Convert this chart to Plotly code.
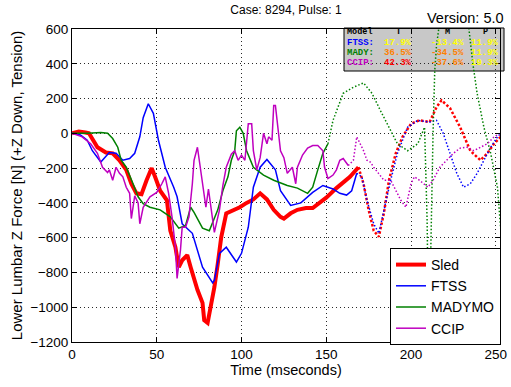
import plotly.graph_objects as go

# ---------------- data ----------------
sled_t = [0, 4, 8, 10, 15, 20, 24, 28, 32, 35,
          38, 41, 44, 47, 49, 52, 56, 58, 61, 63,
          65, 68, 70, 74, 77, 78, 80, 82, 84, 86,
          88, 91, 95, 99, 103, 107, 111, 115, 119, 123,
          125, 129, 133, 138, 142, 146, 150, 156, 160, 164,
          169, 172, 175, 178, 181, 184, 187, 191, 195, 200,
          205, 211, 215, 218, 223, 229, 235, 241, 245, 249,
          253]
sled_y = [0, 10, 5, 0, -80, -110, -115, -155, -210, -290,
          -345, -350, -270, -200, -250, -330, -385, -560, -655, -770,
          -730, -700, -770, -900, -975, -1075, -1090, -1000, -885, -750,
          -600, -460, -445, -425, -400, -380, -345, -380, -440, -480,
          -490, -460, -440, -430, -430, -400, -370, -315, -280, -250,
          -195, -290, -440, -560, -595, -460, -270, -115, -20, 55,
          75, 65, 150, 190, 145, 35, -100, -155, -115, -60,
          -20]
sled_end = 169

ftss_t = [0, 5, 9, 12, 17, 19, 22, 26, 30, 34,
          37, 40, 42, 45, 48, 51, 55, 60, 62, 65,
          71, 77, 83, 84, 87, 91, 97, 100, 104, 107,
          111, 115, 120, 123, 129, 135, 142, 148, 154, 158,
          162, 165, 168, 171, 174, 178, 181, 184, 188, 192,
          198, 204, 211, 215, 219, 223, 227, 231, 235, 239,
          243, 247, 251, 253]
ftss_y = [0, -10, -40, -100, -165, -145, -110, -115, -155, -145,
          -115, -20, 90, 170, 115, -40, -195, -310, -365, -520,
          -575, -770, -860, -845, -690, -655, -740, -690, -540, -310,
          -195, -150, -210, -330, -415, -400, -340, -300, -320, -345,
          -355, -330, -230, -250, -385, -520, -575, -440, -270, -115,
          35, 75, 65, 75, 0, -115, -230, -310, -290, -230,
          -155, -80, -20, 0]
ftss_end = 168

mady_t = [0, 9, 17, 21, 24, 27, 29, 32, 36, 39,
          42, 46, 52, 58, 63, 67, 70, 72, 77, 81,
          86, 89, 92, 94, 96, 97, 99, 101, 103, 107,
          113, 119, 127, 133, 139, 142, 145, 148, 151, 154,
          160, 166, 172, 177, 182, 187, 192, 198, 204, 208,
          209.5, 210.5, 211.5, 213, 214, 215, 217, 220, 233, 235,
          236.5, 239, 243, 247, 251, 253]
mady_y = [0, 0, 5, 0, -30, -80, -155, -195, -290, -365,
          -405, -425, -440, -480, -545, -530, -425, -455, -545, -560,
          -440, -330, -250, -155, -100, 15, 35, 0, -100, -195,
          -240, -270, -300, -315, -345, -310, -210, -115, -60, 75,
          230, 265, 290, 230, 130, 35, -60, -100, -60, 35,
          -500, -1260, -700, 0, 360, 500, 650, 700, 700, 520,
          400, 230, 35, -115, -310, -560]
mady_end = 151

ccip_t = [0, 6, 11, 15, 18, 21, 22, 24, 26, 28,
          30, 32, 34, 35, 37, 39, 40, 42, 46, 50,
          53, 55, 57, 59, 61, 62, 64, 65, 67, 69,
          71, 72, 74, 76, 77, 79, 80.5, 82, 84, 87,
          89, 91, 94, 96, 98, 100, 102, 104, 106, 107,
          109, 111, 113, 115, 116, 118, 119, 120, 122, 123,
          125, 127, 130, 132, 133, 136, 139, 142, 145, 148,
          149, 151, 154, 156, 158, 160, 163, 166, 168, 170,
          172, 174, 176, 178, 181, 184, 188, 191, 194, 197,
          200, 202, 205, 210, 213, 217, 221, 225, 229, 233,
          237, 241, 245, 249, 252.5]
ccip_y = [0, -20, -60, -115, -195, -225, -210, -270, -195, -230,
          -250, -310, -345, -490, -360, -400, -520, -425, -365, -340,
          -290, -250, -345, -480, -655, -835, -670, -540, -540, -480,
          -290, -155, -80, -210, -290, -425, -320, -440, -570, -440,
          -300, -195, -120, -100, -155, -125, -155, 55, 55, -100,
          -210, -140, 0, -60, -20, -40, 160, 160, 0, -100,
          -140, -230, -195, -290, -195, -125, -85, -70, -70, -100,
          -195, -260, -240, -210, -155, -145, -185, -155, -20, -60,
          -100, -155, -165, -195, -230, -270, -270, -330, -385, -425,
          -290, -250, -270, -310, -270, -195, -155, -115, -85, -80,
          -100, -80, -60, -20, 0]
ccip_end = 163

series_names = ["Sled", "FTSS", "MADYMO", "CCIP"]
series_colors = ["rgb(255,0,0)", "rgb(0,0,255)", "rgb(0,128,0)", "rgb(191,0,191)"]
series_widths = [4, 1.5, 1.5, 1.5]

# stats table
table_header = ["Model", "T", "M", "P"]
table_models = ["FTSS:", "MADY:", "CCIP:"]
table_T = ["17.9%", "36.5%", "42.3%"]
table_M = ["-13.4%", "-34.5%", "-37.6%"]
table_P = ["11.9%", "11.9%", "19.3%"]
table_T_colors = ["rgb(255,255,0)", "rgb(255,128,0)", "rgb(255,0,0)"]
table_M_colors = ["rgb(255,255,0)", "rgb(255,128,0)", "rgb(255,128,0)"]
table_P_colors = ["rgb(255,255,0)", "rgb(255,255,0)", "rgb(255,255,0)"]

x_ticks = [0, 50, 100, 150, 200, 250]
y_ticks = [-1200, -1000, -800, -600, -400, -200, 0, 200, 400, 600]

# ---------------- layout geometry ----------------
W, H = 511, 387
L, R, T, B = 72, 11, 29, 45
PW = W - L - R
PH = H - T - B


def pxx(px):
    return (px - L) / PW


def pxy(py):
    return (H - B - py) / PH


FONT = "Liberation Sans, Arial, Helvetica, sans-serif"
MONO = "Liberation Mono, Courier New, monospace"

fig = go.Figure()

all_series = [(sled_t, sled_y, sled_end), (ftss_t, ftss_y, ftss_end),
              (mady_t, mady_y, mady_end), (ccip_t, ccip_y, ccip_end)]

# solid parts (legend)
for (t, y, end), name, col, w in zip(all_series, series_names, series_colors, series_widths):
    st = [a for a in t if a <= end]
    sy = [b for a, b in zip(t, y) if a <= end]
    fig.add_trace(go.Scatter(x=st, y=sy, mode="lines", name=name,
                             line=dict(color=col, width=w)))
# dotted continuations
for (t, y, end), name, col, w in zip(all_series, series_names, series_colors, series_widths):
    dt = [a for a in t if a >= end]
    dy = [b for a, b in zip(t, y) if a >= end]
    thick = w > 2
    fig.add_trace(go.Scatter(x=dt, y=dy, mode="lines", name=name, showlegend=False,
                             line=dict(color=col, width=(2.5 if thick else 1.5),
                                       dash=("2.5px,2px" if thick else "1.5px,2px"))))

axis_common = dict(
    showline=True, linecolor="black", linewidth=1, mirror="ticks",
    ticks="inside", ticklen=5, tickcolor="black", automargin=False,
    showgrid=True, gridcolor="rgb(40,40,40)", gridwidth=1, griddash="1px,3px",
    zeroline=False, tickfont=dict(family=FONT, size=13.5, color="black"),
)

fig.update_layout(
    width=W, height=H,
    margin=dict(l=L, r=R, t=T, b=B, autoexpand=False),
    paper_bgcolor="white", plot_bgcolor="white",
    font=dict(family=FONT, color="black"),
    showlegend=True,
    title=dict(text="Case: 8294, Pulse: 1", x=pxx(286), xref="paper", xanchor="center",
               y=1 - 10 / H, yref="container", yanchor="middle",
               font=dict(family=FONT, size=12, color="black")),
    xaxis=dict(range=[0, 252.5], tickvals=x_ticks,
               title=dict(text="Time (mseconds)", font=dict(family=FONT, size=14.5), standoff=3),
               **axis_common),
    yaxis=dict(range=[-1200, 600], tickvals=y_ticks,
               title=dict(text="Lower Lumbar Z Force [N] (+Z Down, Tension)",
                          font=dict(family=FONT, size=15), standoff=4),
               **axis_common),
    legend=dict(x=pxx(390), y=pxy(248), xanchor="left", yanchor="top",
                bgcolor="white", bordercolor="black", borderwidth=1,
                font=dict(family=FONT, size=14, color="black"),
                tracegroupgap=0),
)

# version label
fig.add_annotation(text="Version: 5.0", xref="paper", yref="paper",
                   x=pxx(506), y=pxy(18), xanchor="right", yanchor="middle",
                   showarrow=False, font=dict(family=FONT, size=14.5, color="black"))

# stats box
fig.add_shape(type="rect", xref="paper", yref="paper",
              x0=pxx(344), x1=pxx(504), y0=pxy(71), y1=pxy(28),
              fillcolor="rgb(200,200,200)", line=dict(color="black", width=1),
              layer="between")

col_x = [346, 398, 447, 485]
row_y = [32, 43, 53, 63]
for i, h in enumerate(table_header):
    fig.add_annotation(text="<b>" + h + "</b>", xref="paper", yref="paper",
                       x=pxx(col_x[i]), y=pxy(row_y[0]),
                       xanchor="left" if i == 0 else "center", yanchor="middle",
                       showarrow=False, borderpad=0,
                       font=dict(family=MONO, size=8.5, color="black"))
for r in range(3):
    cells = [(table_models[r], series_colors[r + 1]),
             (table_T[r], table_T_colors[r]),
             (table_M[r], table_M_colors[r]),
             (table_P[r], table_P_colors[r])]
    for i, (txt, c) in enumerate(cells):
        fig.add_annotation(text="<b>" + txt + "</b>", xref="paper", yref="paper",
                           x=pxx(col_x[i]), y=pxy(row_y[r + 1]),
                           xanchor="left" if i == 0 else "center", yanchor="middle",
                           showarrow=False, borderpad=0,
                           font=dict(family=MONO, size=9, color=c))

fig.write_html("out.html", config={"displayModeBar": False},
               post_script="document.body.style.margin='0';document.body.style.overflow='hidden';")
